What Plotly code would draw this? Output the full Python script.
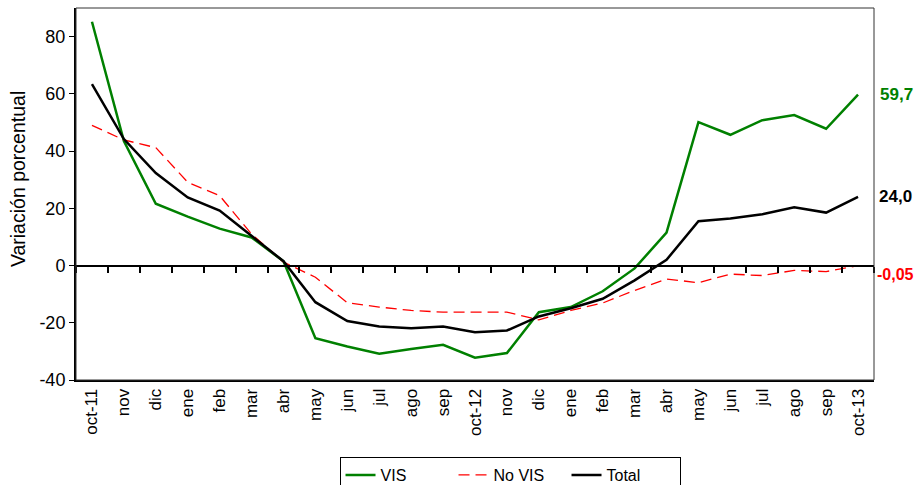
import plotly.graph_objects as go

months = ["oct-11", "nov", "dic", "ene", "feb", "mar", "abr", "may", "jun", "jul", "ago", "sep",
          "oct-12", "nov", "dic", "ene", "feb", "mar", "abr", "may", "jun", "jul", "ago", "sep", "oct-13"]

vis = [85.2, 43.5, 21.6, 17.1, 12.9, 9.8, 1.5, -25.4, -28.3, -30.8, -29.2, -27.7,
       -32.2, -30.6, -16.3, -14.5, -9.0, -1.0, 11.5, 50.1, 45.7, 50.8, 52.6, 47.8, 59.7]
no_vis = [49.0, 43.9, 41.2, 29.1, 24.4, 11.0, 1.2, -4.1, -13.0, -14.5, -15.7, -16.3,
          -16.3, -16.3, -19.0, -15.7, -13.1, -8.7, -4.7, -6.0, -3.0, -3.5, -1.7, -2.1, -0.05]
total = [63.4, 44.2, 32.3, 23.8, 19.2, 10.5, 1.5, -12.8, -19.4, -21.3, -21.9, -21.3,
         -23.3, -22.7, -17.8, -14.9, -11.6, -5.2, 2.0, 15.5, 16.4, 17.9, 20.4, 18.5, 24.0]

y_ticks = [-40, -20, 0, 20, 40, 60, 80]
y_ticktext = ["-40", "-20", "0", "20", "40", "60", "80"]
end_labels = ["59,7", "-0,05", "24,0"]

FONT = "Arial, Liberation Sans, sans-serif"
x = list(range(len(months)))

fig = go.Figure()
fig.add_trace(go.Scatter(x=x, y=vis, mode="lines", name="VIS",
                         line=dict(color="#008000", width=2.5)))
fig.add_trace(go.Scatter(x=x, y=no_vis, mode="lines", name="No VIS",
                         line=dict(color="#FF0000", width=1.3, dash="11px,6px")))
fig.add_trace(go.Scatter(x=x, y=total, mode="lines", name="Total",
                         line=dict(color="#000000", width=2.5)))
# invisible trace so the zero-crossing axis (tick marks) gets drawn
fig.add_trace(go.Scatter(x=x, y=total, xaxis="x2", mode="lines", showlegend=False,
                         hoverinfo="skip", line=dict(color="rgba(0,0,0,0)")))

# end-of-series value labels
for series, txt, col, ys, xs, sz in [(vis, end_labels[0], "#008000", 0, 20, 17),
                                     (no_vis, end_labels[1], "#FF0000", -9, 17, 16),
                                     (total, end_labels[2], "#000000", 0, 19, 17)]:
    fig.add_annotation(x=x[-1], y=series[-1], text="<b>%s</b>" % txt, showarrow=False,
                       xanchor="left", xshift=xs, yshift=ys,
                       font=dict(family=FONT, size=sz, color=col))

# y axis title (sits a little above the plot centre in the original)
fig.add_annotation(xref="paper", yref="paper", x=-0.0727, y=0.54, text="Variación porcentual",
                   textangle=-90, showarrow=False, xanchor="center", yanchor="middle",
                   font=dict(family=FONT, size=19.5, color="#000000"))

fig.add_shape(type="rect", xref="paper", yref="paper", x0=0, x1=1, y0=0, y1=1,
              line=dict(color="#333333", width=1), layer="above")

fig.update_layout(
    width=914, height=485,
    margin=dict(l=76, r=40, t=8, b=105, autoexpand=False),
    paper_bgcolor="white", plot_bgcolor="white",
    font=dict(family=FONT, size=18, color="#000000"),
    showlegend=True,
    legend=dict(orientation="h", xref="container", yref="container",
                x=0.558, xanchor="center", y=1 - 457 / 485, yanchor="top",
                bordercolor="#000000", borderwidth=1, bgcolor="white",
                font=dict(size=16), entrywidth=68),
    xaxis=dict(range=[-0.5, len(months) - 0.5], tickvals=x, ticktext=months,
               tickangle=-90, showgrid=False, zeroline=False,
               showline=True, linecolor="black", linewidth=2,
               ticks="", tickfont=dict(size=17)),
    xaxis2=dict(range=[-0.5, len(months) - 0.5], overlaying="x", anchor="free",
                position=40 / 130, side="bottom",
                tickvals=[i - 0.5 for i in range(len(months) + 1)],
                showticklabels=False, ticks="outside", ticklen=6, tickcolor="black",
                tickwidth=1.5, showline=True, linecolor="black", linewidth=2,
                showgrid=False, zeroline=False),
    yaxis=dict(range=[-40, 90], tickvals=y_ticks, ticktext=y_ticktext,
               showgrid=False, zeroline=False, showline=True, linecolor="black",
               linewidth=2, ticks="outside", ticklen=5, tickcolor="black",
               tickfont=dict(size=18)),
)

# drop the default 8px page margin so the figure fills the window exactly
fig.write_html("out.html", config={"displayModeBar": False},
               post_script="document.body.style.margin='0';"
                           "document.documentElement.style.overflow='hidden';")
